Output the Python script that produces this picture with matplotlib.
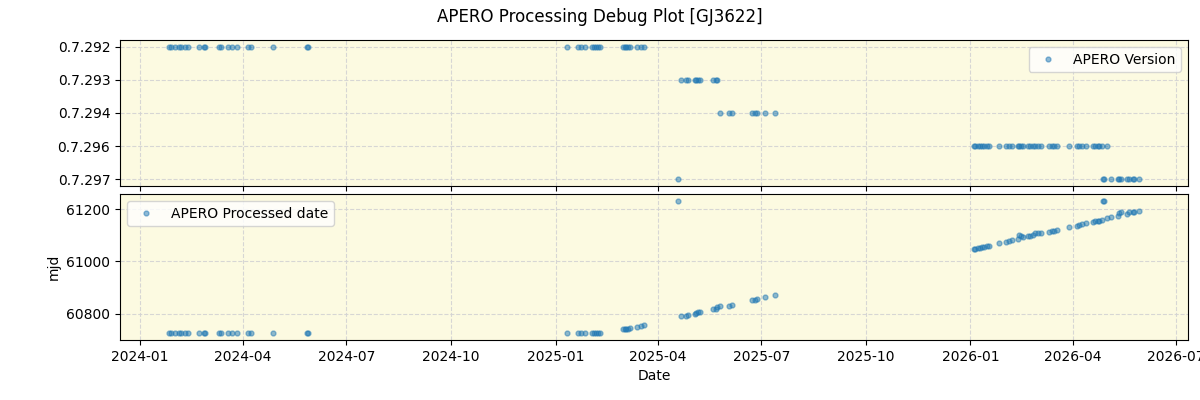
import numpy as np
import pandas as pd
import matplotlib
matplotlib.use('Agg')
import matplotlib.pyplot as plt
import matplotlib.dates as mdates

TARGET = 'GJ3622'
VERSIONS = ['0.7.292', '0.7.293', '0.7.294', '0.7.296', '0.7.297']

# observation mjd, apero version, processed mjd
obs_292a = [60335.5, 60337.3, 60340.8, 60344.3, 60346.1, 60349.6, 60352.2, 60361.9,
            60366.3, 60367.2, 60379.5, 60381.3, 60387.4, 60390.9, 60395.3, 60405.0,
            60407.7, 60427.0, 60456.9, 60457.8]
proc_292a = [60724] * len(obs_292a)

obs_292b = [60686.1, 60696.2, 60698.4, 60701.5, 60708.1, 60709.9, 60711.6, 60713.4,
            60715.1, 60735.2, 60736.7, 60738.2, 60739.6, 60741.1, 60747.7, 60751.0,
            60754.0]
proc_292b = [60724, 60724, 60724, 60724, 60724, 60724, 60724, 60724,
             60724, 60739, 60740, 60741, 60742, 60743, 60749, 60754,
             60755]

obs_293 = [60786.0, 60790.4, 60792.4, 60798.3, 60799.8, 60801.2, 60802.7, 60815.0,
           60816.8, 60818.3]
proc_293 = [60790, 60792, 60796, 60800, 60802, 60804, 60804, 60819, 60819, 60825]

obs_294 = [60820.3, 60828.5, 60831.1, 60848.7, 60851.1, 60853.1, 60859.9, 60868.9]
proc_294 = [60829, 60830, 60834, 60850, 60853, 60855, 60863, 60872]

obs_296 = [61043.8, 61045.5, 61047.5, 61049.6, 61051.4, 61053.4, 61055.5, 61057.8,
           61066.0, 61072.5, 61074.8, 61077.8, 61082.7, 61084.2, 61085.7, 61087.1,
           61091.5, 61093.6, 61095.9, 61098.3, 61100.3, 61103.3, 61110.6, 61113.0,
           61115.0, 61117.0, 61128.2, 61134.6, 61136.4, 61139.4, 61142.9, 61149.3,
           61151.1, 61153.1, 61154.6, 61157.0, 61161.0]
proc_296 = [61048, 61048, 61050, 61052, 61053, 61055, 61058, 61059,
            61068, 61074, 61077, 61080, 61086, 61101, 61096, 61092,
            61096, 61098, 61102, 61107, 61109, 61109, 61112, 61115,
            61116, 61118, 61130, 61136, 61139, 61141, 61145, 61152,
            61153, 61155, 61156, 61159, 61164]

obs_297 = [60783.6, 61157.5, 61159.0, 61164.9, 61170.7, 61172.2, 61173.7, 61178.8,
           61181.0, 61183.9, 61185.4, 61189.8]
proc_297 = [61232, 61230, 61232, 61168, 61175, 61185, 61187, 61181,
            61187, 61190, 61190, 61194]

obs_mjd = obs_292a + obs_292b + obs_293 + obs_294 + obs_296 + obs_297
proc_mjd = proc_292a + proc_292b + proc_293 + proc_294 + proc_296 + proc_297
version = (['0.7.292'] * (len(obs_292a) + len(obs_292b)) + ['0.7.293'] * len(obs_293)
           + ['0.7.294'] * len(obs_294) + ['0.7.296'] * len(obs_296)
           + ['0.7.297'] * len(obs_297))

df = pd.DataFrame({'obs_mjd': obs_mjd, 'proc_mjd': proc_mjd, 'version': version})
df['date'] = pd.to_datetime(df['obs_mjd'] - 40587, unit='D')
df['vidx'] = df['version'].map({v: i for i, v in enumerate(VERSIONS)})

fig, (ax1, ax2) = plt.subplots(2, 1, figsize=(12, 4), sharex=True)
fig.subplots_adjust(left=0.1, right=0.99, top=0.9, bottom=0.15, hspace=0.055)
fig.suptitle(f'APERO Processing Debug Plot [{TARGET}]')

for ax in (ax1, ax2):
    ax.set_facecolor('#fcfae1')
    ax.grid(True, linestyle='--', color='lightgray', alpha=0.9)
    ax.set_axisbelow(True)

ax1.plot(df['date'], df['vidx'], 'o', ms=3.5, alpha=0.5, color='C0', label='APERO Version')
ax1.set_yticks(range(len(VERSIONS)))
ax1.set_yticklabels(VERSIONS)
ax1.invert_yaxis()
ax1.legend(loc='upper right')

ax2.plot(df['date'], df['proc_mjd'], 'o', ms=3.5, alpha=0.5, color='C0', label='APERO Processed date')
ax2.set_yticks([60800, 61000, 61200])
ax2.set_ylabel('mjd')
ax2.set_xlabel('Date')
ax2.legend(loc='upper left')
ax2.xaxis.set_major_locator(mdates.MonthLocator(bymonth=[1, 4, 7, 10]))
ax2.xaxis.set_major_formatter(mdates.DateFormatter('%Y-%m'))

fig.savefig('out.png', dpi=100)
